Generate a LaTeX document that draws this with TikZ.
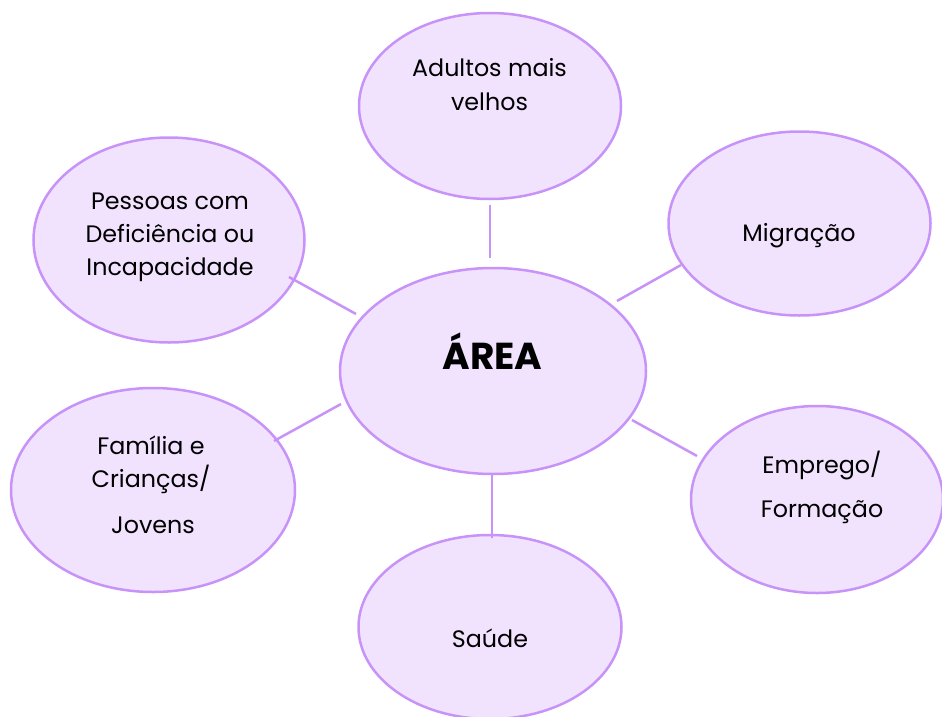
\documentclass[tikz,border=0pt]{standalone}
\usepackage{fontspec}
\setmainfont{Poppins}
\usetikzlibrary{shapes.geometric}
\definecolor{bubblefill}{RGB}{241,227,254}
\definecolor{bubbleline}{RGB}{200,147,248}
\begin{document}
\begin{tikzpicture}[x=1pt,y=-1pt,
  bubble/.style={ellipse,draw=bubbleline,fill=bubblefill,line width=2.5pt,inner sep=0pt},
  link/.style={draw=bubbleline,line width=2.5pt},
  txt/.style={font=\fontsize{23.8}{32}\selectfont,anchor=base,inner sep=0pt,text=black},
  bigtxt/.style={font=\fontsize{37.5}{44}\selectfont\bfseries,anchor=base,inner sep=0pt,text=black}]
\useasboundingbox (0,0) rectangle (942,717);
% ellipses
\node[bubble,minimum width=262pt,minimum height=186pt] (adult) at (490,106) {};
\node[bubble,minimum width=271pt,minimum height=205pt] (pess) at (169,240) {};
\node[bubble,minimum width=262pt,minimum height=184pt] (migr) at (799.5,223.5) {};
\node[bubble,minimum width=306pt,minimum height=206pt] (area) at (493,371) {};
\node[bubble,minimum width=284pt,minimum height=204pt] (fam) at (153,490) {};
\node[bubble,minimum width=252pt,minimum height=187pt] (empr) at (817,499.5) {};
\node[bubble,minimum width=263pt,minimum height=184pt] (saude) at (490,627) {};
% connector end points
\coordinate (a1) at (490,205); \coordinate (a2) at (490,258);
\coordinate (p1) at (289,277); \coordinate (p2) at (356,314);
\coordinate (m1) at (681,265); \coordinate (m2) at (617,301);
\coordinate (f1) at (274,441); \coordinate (f2) at (341,404);
\coordinate (e1) at (697,456); \coordinate (e2) at (632,420);
\coordinate (s1) at (492,538); \coordinate (s2) at (492,475);
\draw[link] (a1) -- (a2);
\draw[link] (p1) -- (p2);
\draw[link] (m1) -- (m2);
\draw[link] (f1) -- (f2);
\draw[link] (e1) -- (e2);
\draw[link] (s1) -- (s2);
% texts
\node[txt] (ta1) at (489.5,77) {Adultos mais};
\node[txt] (ta2) at (489.5,110) {velhos};
\node[txt] (tp1) at (170,209) {Pessoas com};
\node[txt] (tp2) at (170,242) {Deficiência ou};
\node[txt] (tp3) at (170,275) {Incapacidade};
\node[txt] (tm1) at (799,241) {Migração};
\node[bigtxt] (tarea) at (492.5,369) {ÁREA};
\node[txt] (tf1) at (151,454) {Família e};
\node[txt] (tf2) at (151,487) {Crianças/};
\node[txt] (tf3) at (153,533) {Jovens};
\node[txt] (te1) at (822,473) {Emprego/};
\node[txt] (te2) at (822,517) {Formação};
\node[txt] (ts1) at (490,647) {Saúde};
\end{tikzpicture}
\end{document}
